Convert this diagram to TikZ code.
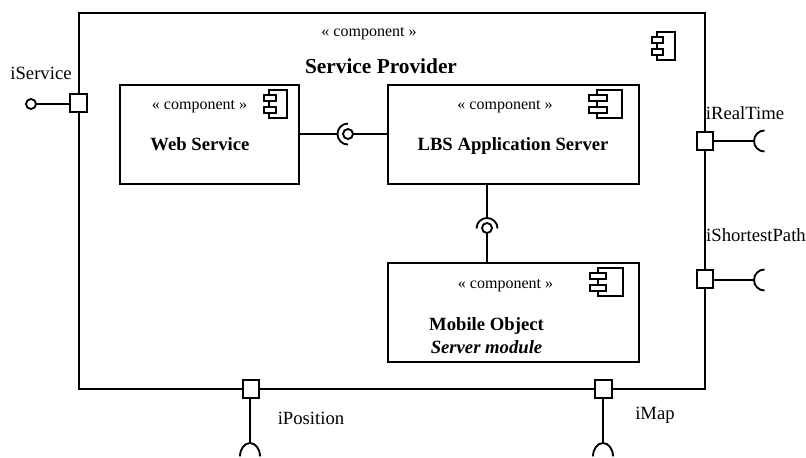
\documentclass[tikz,border=0pt]{standalone}
\usepackage{fontspec}
\usetikzlibrary{calc}
\setmainfont{Liberation Serif}
\tikzset{
  x=0.75pt,y=-0.75pt,
  conn/.style={line width=1.4pt},
  compbox/.style={draw,line width=1.6pt,fill=white,inner sep=0pt,outer sep=0pt},
  portbox/.style={draw,line width=1.6pt,fill=white,inner sep=0pt,outer sep=0pt,minimum width=12.4pt,minimum height=13.5pt},
  tab/.style={draw,line width=1.4pt,fill=white,inner sep=0pt,outer sep=0pt},
  ball/.style={draw,line width=1.4pt,fill=white,circle,inner sep=0pt,outer sep=0pt,minimum size=7.5pt},
  stereo/.style={font=\fontsize{12}{14}\selectfont,inner sep=0pt},
  ttl/.style={font=\fontsize{14}{16}\selectfont\bfseries,inner sep=0pt},
  lbl/.style={font=\fontsize{14}{16}\selectfont,inner sep=0pt},
}
\newcommand{\compicon}[7]{% name, bodyL, bodyR, tabL, tabR, top, unused
  \node[tab,minimum width={(#3-#2)*0.75pt},minimum height=21pt] (#1b) at ({(#2+#3)/2},{#6+14}) {};
  \node[tab,minimum width={(#5-#4)*0.75pt},minimum height=4.5pt] (#1t) at ({(#4+#5)/2},{#6+8}) {};
  \node[tab,minimum width={(#5-#4)*0.75pt},minimum height=4.5pt] (#1u) at ({(#4+#5)/2},{#6+20}) {};
}
\begin{document}
\begin{tikzpicture}[conn]
\useasboundingbox (0,0) rectangle (806,457);
% boxes
\node[compbox,minimum width=469.5pt,minimum height=282pt] (main) at (392,201) {};
\node[compbox,minimum width=134.25pt,minimum height=74.25pt] (web) at (209.5,134.5) {};
\node[compbox,minimum width=188.25pt,minimum height=74.25pt] (lbs) at (513.5,134.5) {};
\node[compbox,minimum width=188.25pt,minimum height=74.25pt] (mob) at (513.5,312.5) {};
% ports
\node[portbox] (pS) at (78.5,103) {};
\node[portbox] (pR) at (705,141) {};
\node[portbox] (pP) at (705,279) {};
\node[portbox] (pO) at (251,389) {};
\node[portbox] (pM) at (603.5,389) {};
% icons
\compicon{mi}{657}{675}{652}{663}{32}{}
\compicon{wi}{269}{287}{264}{276}{90}{}
\compicon{li}{597}{622}{589}{607}{90}{}
\compicon{oi}{598}{623}{590}{606}{268}{}
% iService lollipop
\node[ball] (bS) at (31,104) {};
\draw (bS) -- (pS.west |- bS);
% required sockets
\coordinate (sR) at (754,141);
\coordinate (sP) at (754,280);
\coordinate (sO) at (250,443);
\coordinate (sM) at (603,443);
\draw (pR.east |- sR) -- (sR);
\draw (pP.east |- sP) -- (sP);
\draw (sO |- pO.south) -- (sO);
\draw (sM |- pM.south) -- (sM);
\foreach \s in {sR,sP}{
  \draw (\s) arc[start angle=180,end angle=90,radius=7.9pt];
  \draw (\s) arc[start angle=180,end angle=270,radius=7.9pt];
}
\foreach \s in {sO,sM}{
  \draw (\s) arc[start angle=90,end angle=0,x radius=7.5pt,y radius=10pt];
  \draw (\s) arc[start angle=90,end angle=180,x radius=7.5pt,y radius=10pt];
}
% assembly connectors
\node[ball] (bH) at (348,134) {};
\coordinate (aH) at (337.5,134);
\draw (web.east |- aH) -- (aH);
\draw (bH) -- (lbs.west |- bH);
\draw ($(aH)+(10.5,-10.5)$) arc[start angle=90,end angle=270,radius=7.9pt];
\node[ball] (bV) at (487,228) {};
\coordinate (aV) at (487,218);
\draw (aV |- lbs.south) -- (aV);
\draw (bV) -- (bV |- mob.north);
\draw ($(aV)+(-10.5,10.5)$) arc[start angle=180,end angle=0,radius=7.9pt];
% texts
\node[stereo] (t1) at (369,34) {« component »};
\node[ttl,font=\fontsize{16}{18}\selectfont\bfseries] (t2) at (381,66) {Service Provider};
\node[stereo] (t3) at (199.5,107) {« component »};
\node[ttl] (t4) at (200,144) {Web Service};
\node[stereo] (t5) at (505,107) {« component »};
\node[ttl] (t6) at (513,146) {LBS Application Server};
\node[stereo] (t7) at (505.5,286) {« component »};
\node[ttl] (t8) at (486.5,326) {Mobile Object};
\node[ttl,font=\fontsize{14}{16}\selectfont\bfseries\itshape] (t9) at (486.5,347) {Server module};
\node[lbl] (l1) at (41,73) {iService};
\node[lbl] (l2) at (745,113) {iRealTime};
\node[lbl] (l3) at (756,235) {iShortestPath};
\node[lbl] (l4) at (311,418) {iPosition};
\node[lbl] (l5) at (655,415) {iMap};
\end{tikzpicture}
\end{document}
